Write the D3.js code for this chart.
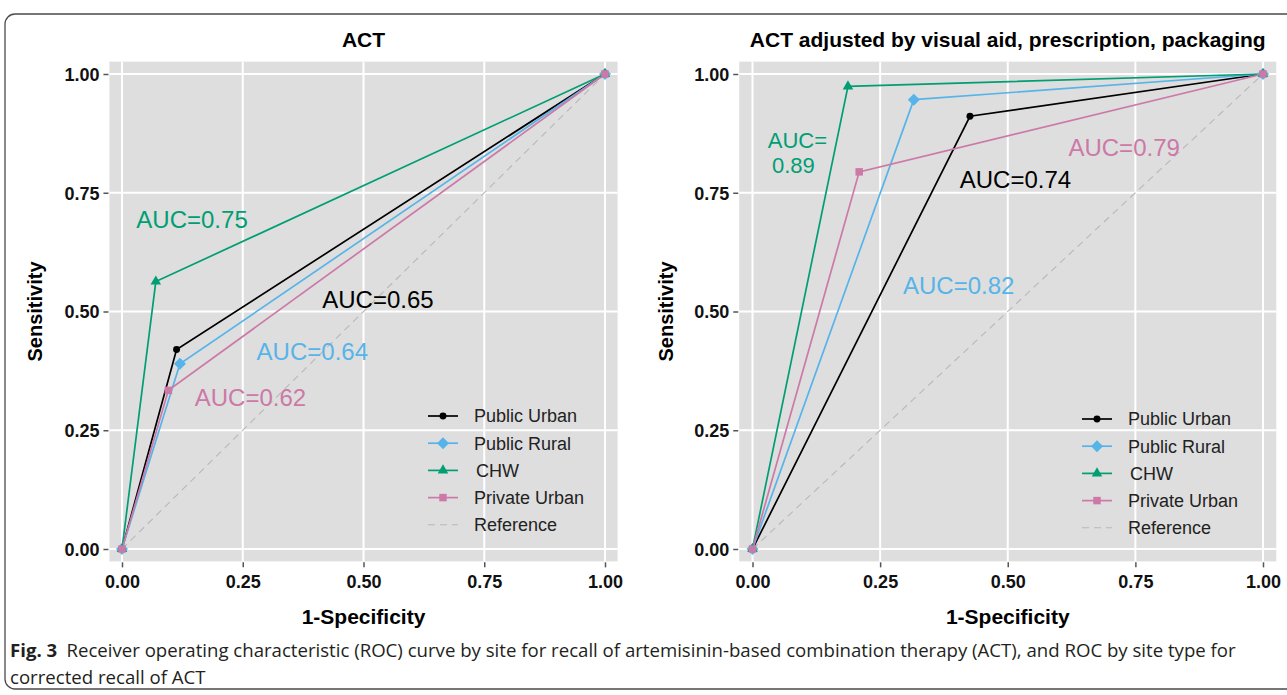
<!DOCTYPE html>
<html>
<head>
<meta charset="utf-8">
<script src="https://cdn.jsdelivr.net/npm/d3@7"></script>
<style>
  body { margin: 0; background: #fff; }
  svg { display: block; }
</style>
</head>
<body>
<svg id="chart" width="1287" height="695"></svg>
<script>
// site series, same order in both panels
const sites = ["Public Urban", "Public Rural", "CHW", "Private Urban"];
const siteColors = ["#000000", "#56B4E9", "#009E73", "#CC79A7"];
const siteShapes = ["circle", "diamond", "triangle", "square"];

// operating point (1-specificity, sensitivity) for each site
const actFpr = [0.113, 0.120, 0.070, 0.096];
const actTpr = [0.420, 0.390, 0.563, 0.334];
const adjFpr = [0.426, 0.316, 0.187, 0.209];
const adjTpr = [0.911, 0.946, 0.974, 0.794];

// AUC annotations (text, and where they sit in data units)
const actAuc = ["AUC=0.65", "AUC=0.64", "AUC=0.75", "AUC=0.62"];
const actAucX = [0.530, 0.394, 0.145, 0.266];
const actAucY = [0.525, 0.416, 0.694, 0.319];
const adjAuc = ["AUC=0.74", "AUC=0.82", "AUC=\n0.89", "AUC=0.79"];
const adjAucX = [0.515, 0.404, 0.088, 0.728];
const adjAucY = [0.778, 0.555, 0.834, 0.845];

const ticks = [0, 0.25, 0.5, 0.75, 1];
const tickLabels = ["0.00", "0.25", "0.50", "0.75", "1.00"];

const svg = d3.select("#chart");

// figure frame
svg.append("rect")
	.attr("x", 5).attr("y", 14)
	.attr("width", 1320).attr("height", 675)
	.attr("rx", 10).attr("ry", 10)
	.attr("fill", "none")
	.attr("stroke", "#4a4a4a")
	.attr("stroke-width", 1.3);

const panels = [
	{title: "ACT", fpr: actFpr, tpr: actTpr, auc: actAuc, aucX: actAucX, aucY: actAucY,
		x0: 122, x1: 605, legendX: 428, legendY: 416},
	{title: "ACT adjusted by visual aid, prescription, packaging", fpr: adjFpr, tpr: adjTpr,
		auc: adjAuc, aucX: adjAucX, aucY: adjAucY, x0: 752.5, x1: 1263, legendX: 1082, legendY: 419}
];

function symbolPath(shape){
	if (shape == "circle") return d3.symbol(d3.symbolCircle, 38)();
	if (shape == "triangle") return d3.symbol(d3.symbolTriangle, 48)();
	if (shape == "square") return d3.symbol(d3.symbolSquare, 56)();
	// diamond: square turned 45 degrees
	let r = 6;
	return `M0,${-r}L${r},0L0,${r}L${-r},0Z`;
}

const expand = 0.026;

panels.forEach(function(p){
	let x = d3.scaleLinear().domain([0, 1]).range([p.x0, p.x1]);
	let y = d3.scaleLinear().domain([0, 1]).range([549, 74]);
	let g = svg.append("g");

	// panel background
	g.append("rect")
		.attr("x", x(-expand)).attr("y", y(1 + expand))
		.attr("width", x(1 + expand) - x(-expand))
		.attr("height", y(-expand) - y(1 + expand))
		.attr("fill", "#dedede");

	// grid
	g.selectAll(".vgrid").data(ticks).enter().append("line")
		.attr("x1", d => x(d)).attr("x2", d => x(d))
		.attr("y1", y(1 + expand)).attr("y2", y(-expand))
		.attr("stroke", "#fff").attr("stroke-width", 2);
	g.selectAll(".hgrid").data(ticks).enter().append("line")
		.attr("y1", d => y(d)).attr("y2", d => y(d))
		.attr("x1", x(-expand)).attr("x2", x(1 + expand))
		.attr("stroke", "#fff").attr("stroke-width", 2);

	// axes
	let xAxis = d3.axisBottom(x).tickValues(ticks).tickFormat((d, i) => tickLabels[i])
		.tickSize(5).tickPadding(8);
	let yAxis = d3.axisLeft(y).tickValues(ticks).tickFormat((d, i) => tickLabels[i])
		.tickSize(5).tickPadding(4);
	let gx = g.append("g").attr("transform", `translate(0,${y(-expand) + 1})`).call(xAxis);
	let gy = g.append("g").attr("transform", `translate(${x(-expand) - 1},0)`).call(yAxis);
	[gx, gy].forEach(function(a){
		a.select(".domain").remove();
		a.selectAll(".tick line").attr("stroke", "#555").attr("stroke-width", 1.5);
		a.selectAll(".tick text")
			.attr("fill", "#111")
			.style("font-family", "Liberation Sans, Arial, sans-serif")
			.style("font-size", "18px")
			.style("font-weight", "bold");
	});
	gy.selectAll(".tick text").attr("dy", "0.36em");

	// titles
	let mid = (p.x0 + p.x1) / 2;
	g.append("text").text(p.title)
		.attr("x", mid).attr("y", 47)
		.attr("text-anchor", "middle")
		.style("font-family", "Liberation Sans, Arial, sans-serif")
		.style("font-size", "21px").style("font-weight", "bold");
	g.append("text").text("1-Specificity")
		.attr("x", mid).attr("y", 624)
		.attr("text-anchor", "middle")
		.style("font-family", "Liberation Sans, Arial, sans-serif")
		.style("font-size", "21px").style("font-weight", "bold");
	g.append("text").text("Sensitivity")
		.attr("transform", `translate(${p.x0 - 80},${y(0.5)}) rotate(-90)`)
		.attr("text-anchor", "middle")
		.style("font-family", "Liberation Sans, Arial, sans-serif")
		.style("font-size", "20px").style("font-weight", "bold");

	// reference diagonal
	g.append("line")
		.attr("x1", x(0)).attr("y1", y(0)).attr("x2", x(1)).attr("y2", y(1))
		.attr("stroke", "#b8b8b8").attr("stroke-width", 1.1)
		.attr("stroke-dasharray", "7,5");

	let line = d3.line().x(d => x(d[0])).y(d => y(d[1]));
	sites.forEach(function(s, i){
		let pts = [[0, 0], [p.fpr[i], p.tpr[i]], [1, 1]];
		g.append("path").datum(pts)
			.attr("d", line)
			.attr("fill", "none")
			.attr("stroke", siteColors[i])
			.attr("stroke-width", 1.7);
	});
	sites.forEach(function(s, i){
		let pts = [[0, 0], [p.fpr[i], p.tpr[i]], [1, 1]];
		g.selectAll(".pt" + i).data(pts).enter().append("path")
			.attr("d", symbolPath(siteShapes[i]))
			.attr("transform", d => `translate(${x(d[0])},${y(d[1])})`)
			.attr("fill", siteColors[i]);
	});

	// AUC labels (a two-line label is split in two texts)
	sites.forEach(function(s, i){
		let lines = p.auc[i].split("\n");
		lines.forEach(function(l, k){
			let off = (k - (lines.length - 1) / 2) * 25;
			g.append("text").text(l)
				.attr("x", x(p.aucX[i]) + (k > 0 ? -4 : 0))
				.attr("y", y(p.aucY[i]) + off)
				.attr("dy", "0.36em")
				.attr("text-anchor", "middle")
				.attr("fill", siteColors[i])
				.style("font-family", "Liberation Sans, Arial, sans-serif")
				.style("font-size", lines.length > 1 ? "22px" : "24px");
		});
	});

	// legend
	let legendItems = sites.concat(["Reference"]);
	legendItems.forEach(function(name, i){
		let ly = p.legendY + i * 27.2;
		let lg = g.append("g").attr("transform", `translate(${p.legendX},${ly})`);
		if (i < sites.length){
			lg.append("line").attr("x1", 0).attr("x2", 30)
				.attr("stroke", siteColors[i]).attr("stroke-width", 1.7);
			lg.append("path").attr("d", symbolPath(siteShapes[i]))
				.attr("transform", "translate(15,0)")
				.attr("fill", siteColors[i]);
		} else {
			lg.append("line").attr("x1", 0).attr("x2", 30)
				.attr("stroke", "#b8b8b8").attr("stroke-width", 1.1)
				.attr("stroke-dasharray", "7,5");
		}
		lg.append("text").text(name)
			.attr("x", i == 2 ? 48 : 46).attr("dy", "0.36em")
			.attr("fill", "#222")
			.style("font-family", "Liberation Sans, Arial, sans-serif")
			.style("font-size", "18px");
	});
});

// caption
let cap = svg.append("g");
let c1 = cap.append("text").attr("x", 10).attr("y", 657)
	.attr("fill", "#231f20")
	.style("font-family", "Open Sans, sans-serif").style("font-size", "18px");
c1.append("tspan").text("Fig. 3").style("font-weight", "bold");
c1.append("tspan").text("\u2002Receiver operating characteristic (ROC) curve by site for recall of artemisinin-based combination therapy (ACT), and ROC by site type for");
let c2 = cap.append("text").attr("x", 10).attr("y", 684)
	.attr("fill", "#231f20")
	.style("font-family", "Open Sans, sans-serif").style("font-size", "18px")
	.text("corrected recall of ACT");
let w = c1.node().getComputedTextLength();
let sx = 1227 / w;
cap.attr("transform", `translate(${10 - 10 * sx},0) scale(${sx},1)`);
</script>
</body>
</html>
